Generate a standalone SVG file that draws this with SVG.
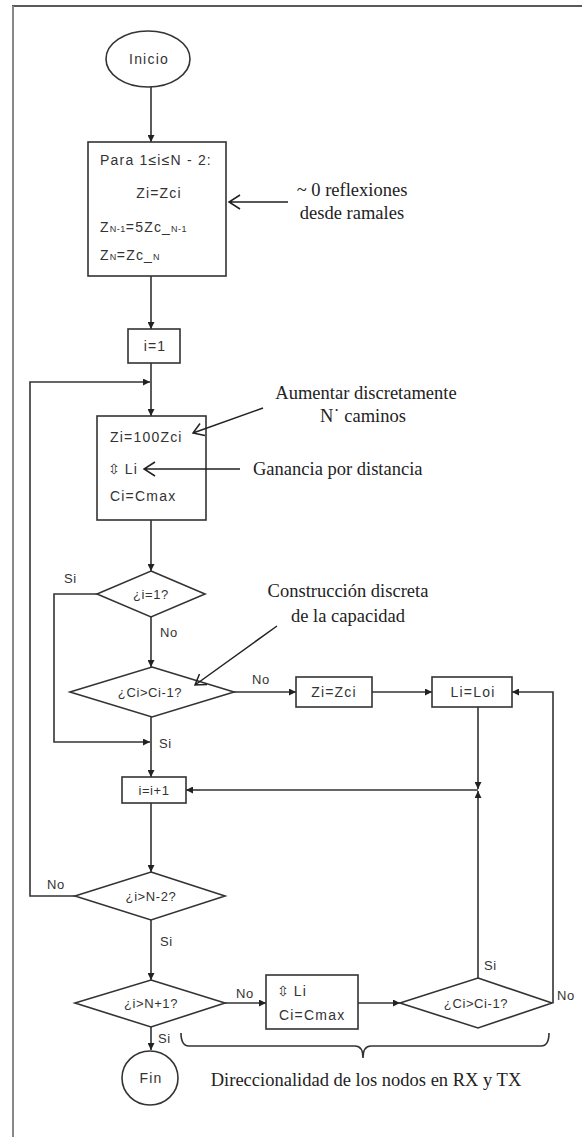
<svg xmlns="http://www.w3.org/2000/svg" width="582" height="1137" viewBox="0 0 582 1137">
<defs>
<marker id="arr" viewBox="0 0 10 10" refX="10" refY="5" markerWidth="7" markerHeight="7" orient="auto" markerUnits="userSpaceOnUse">
<path d="M0 0 L10 5 L0 10 z" fill="#222"/>
</marker>
<style>
.n{fill:#fff;stroke:#333;stroke-width:1.6}
.t{font-family:"Liberation Sans",Arial,sans-serif;font-size:14px;letter-spacing:1.2px;fill:#333}
.d{font-family:"Liberation Sans",Arial,sans-serif;font-size:13px;letter-spacing:0.6px;fill:#333}
.c{text-anchor:middle}
.s{font-family:"Liberation Serif","Times New Roman",serif;font-size:18.5px;fill:#222}
.e{fill:none;stroke:#333;stroke-width:1.6;marker-end:url(#arr)}
.l{fill:none;stroke:#333;stroke-width:1.6}
.a{fill:none;stroke:#222;stroke-width:1.5}
.sub{font-size:9px;letter-spacing:0.5px}
.ud{font-family:"DejaVu Sans",sans-serif;font-size:14px;letter-spacing:0}
</style>
</defs>
<rect x="0" y="0" width="582" height="1137" fill="#fff"/>
<g id="frame">
<line x1="12" y1="6" x2="582" y2="6" stroke="#222" stroke-width="1.5"/>
<line x1="13" y1="6" x2="13" y2="1137" stroke="#888" stroke-width="2"/>
</g>
<g id="connectors">
<path class="e" d="M151 87 V142"/>
<path class="e" d="M151 276 V329"/>
<path class="e" d="M151 363 V416"/>
<path class="e" d="M75 896 H30 V382 H150"/>
<path class="e" d="M151 520 V571"/>
<path class="e" d="M151 617 V667"/>
<path class="e" d="M97 594 H54 V742 H150"/>
<path class="e" d="M151 717 V777"/>
<path class="e" d="M234 692 H296"/>
<path class="e" d="M372 692 H432"/>
<path class="e" d="M478 707 V789"/>
<path class="l" d="M478 790 H200"/>
<path class="e" d="M200 790 H186"/>
<path class="e" d="M478 978 V791"/>
<path class="e" d="M553 1003 V692 H512"/>
<path class="e" d="M151 803 V872"/>
<path class="e" d="M151 920 V980"/>
<path class="e" d="M225 1003 H266"/>
<path class="e" d="M358 1003 H400"/>
<path class="e" d="M151 1027 V1050"/>
</g>
<g id="inicio">
<ellipse class="n" cx="148" cy="59" rx="42" ry="28"/>
<text class="t c" x="149" y="64">Inicio</text>
</g>
<g id="init-box">
<rect class="n" x="88" y="142" width="138" height="134"/>
<text class="t" x="100" y="165">Para 1≤i≤N - 2:</text>
<text class="t c" x="159" y="198">Zi=Zci</text>
<text class="t" x="100" y="232">Z<tspan class="sub">N-1</tspan>=5Zc_<tspan class="sub">N-1</tspan></text>
<text class="t" x="100" y="260">Z<tspan class="sub">N</tspan>=Zc_<tspan class="sub">N</tspan></text>
</g>
<g id="i1">
<rect class="n" x="128" y="329" width="52" height="34"/>
<text class="t c" x="155" y="351">i=1</text>
</g>
<g id="main-box">
<rect class="n" x="97" y="416" width="109" height="104"/>
<text class="t" x="110" y="442">Zi=100Zci</text>
<text class="t" x="108" y="474"><tspan class="ud">⇳</tspan> Li</text>
<text class="t" x="110" y="501">Ci=Cmax</text>
</g>
<g id="dec-i1">
<polygon class="n" points="151,571 205,594 151,617 97,594"/>
<text class="d c" x="151" y="599">¿i=1?</text>
<text class="d" x="64" y="583">Si</text>
<text class="d" x="160" y="637">No</text>
</g>
<g id="dec-ci">
<polygon class="n" points="152,667 234,692 152,717 70,692"/>
<text class="d c" x="150" y="697">¿Ci&gt;Ci-1?</text>
<text class="d" x="252" y="684">No</text>
<text class="d" x="159" y="748">Si</text>
</g>
<g id="zi-zci">
<rect class="n" x="296" y="677" width="76" height="30"/>
<text class="t c" x="334" y="697">Zi=Zci</text>
</g>
<g id="li-loi">
<rect class="n" x="432" y="677" width="80" height="30"/>
<text class="t c" x="473" y="697">Li=Loi</text>
</g>
<g id="inc">
<rect class="n" x="122" y="777" width="64" height="26"/>
<text class="d c" x="154" y="795">i=i+1</text>
</g>
<g id="dec-n2">
<polygon class="n" points="151,872 225,896 151,920 75,896"/>
<text class="d c" x="151" y="901">¿i&gt;N-2?</text>
<text class="d" x="47" y="889">No</text>
<text class="d" x="160" y="946">Si</text>
</g>
<g id="dec-n1">
<polygon class="n" points="151,980 225,1003 151,1027 75,1003"/>
<text class="d c" x="151" y="1008">¿i&gt;N+1?</text>
<text class="d" x="236" y="998">No</text>
<text class="d" x="158" y="1043">Si</text>
</g>
<g id="li-box">
<rect class="n" x="266" y="975" width="92" height="54"/>
<text class="t" x="277" y="996"><tspan class="ud">⇳</tspan> Li</text>
<text class="t" x="279" y="1020">Ci=Cmax</text>
</g>
<g id="dec-ci2">
<polygon class="n" points="478,978 552,1003 478,1028 400,1003"/>
<text class="d c" x="476" y="1008">¿Ci&gt;Ci-1?</text>
<text class="d" x="484" y="970">Si</text>
<text class="d" x="557" y="1000">No</text>
</g>
<g id="fin">
<ellipse class="n" cx="150" cy="1078" rx="28" ry="27"/>
<text class="t c" x="151" y="1083">Fin</text>
</g>
<g id="annotations">
<path class="a" d="M288 202 H229 M240 195 L229 202 L240 209"/>
<path class="a" d="M263 408 L193 433 M200 423.5 L193 433 L205 435.5"/>
<path class="a" d="M240 469 H144 M155 462 L144 469 L155 476"/>
<path class="a" d="M277 626 L195 685 M199.5 674 L195 685 L207 684.5"/>
<path class="l" d="M181 1033 Q181 1046 189 1046 H355 Q363 1046 363 1058 Q363 1046 371 1046 H541 Q549 1046 549 1033"/>
<text class="s c" x="352" y="196">~ 0 reflexiones</text>
<text class="s c" x="352" y="219">desde ramales</text>
<text class="s c" x="366" y="399">Aumentar discretamente</text>
<text class="s c" x="363" y="422">N˙ caminos</text>
<text class="s" x="253" y="475">Ganancia por distancia</text>
<text class="s c" x="348" y="597">Construcción discreta</text>
<text class="s c" x="348" y="622">de la capacidad</text>
<text class="s c" x="366" y="1086" font-size="20.5">Direccionalidad de los nodos en RX y TX</text>
</g>
</svg>
